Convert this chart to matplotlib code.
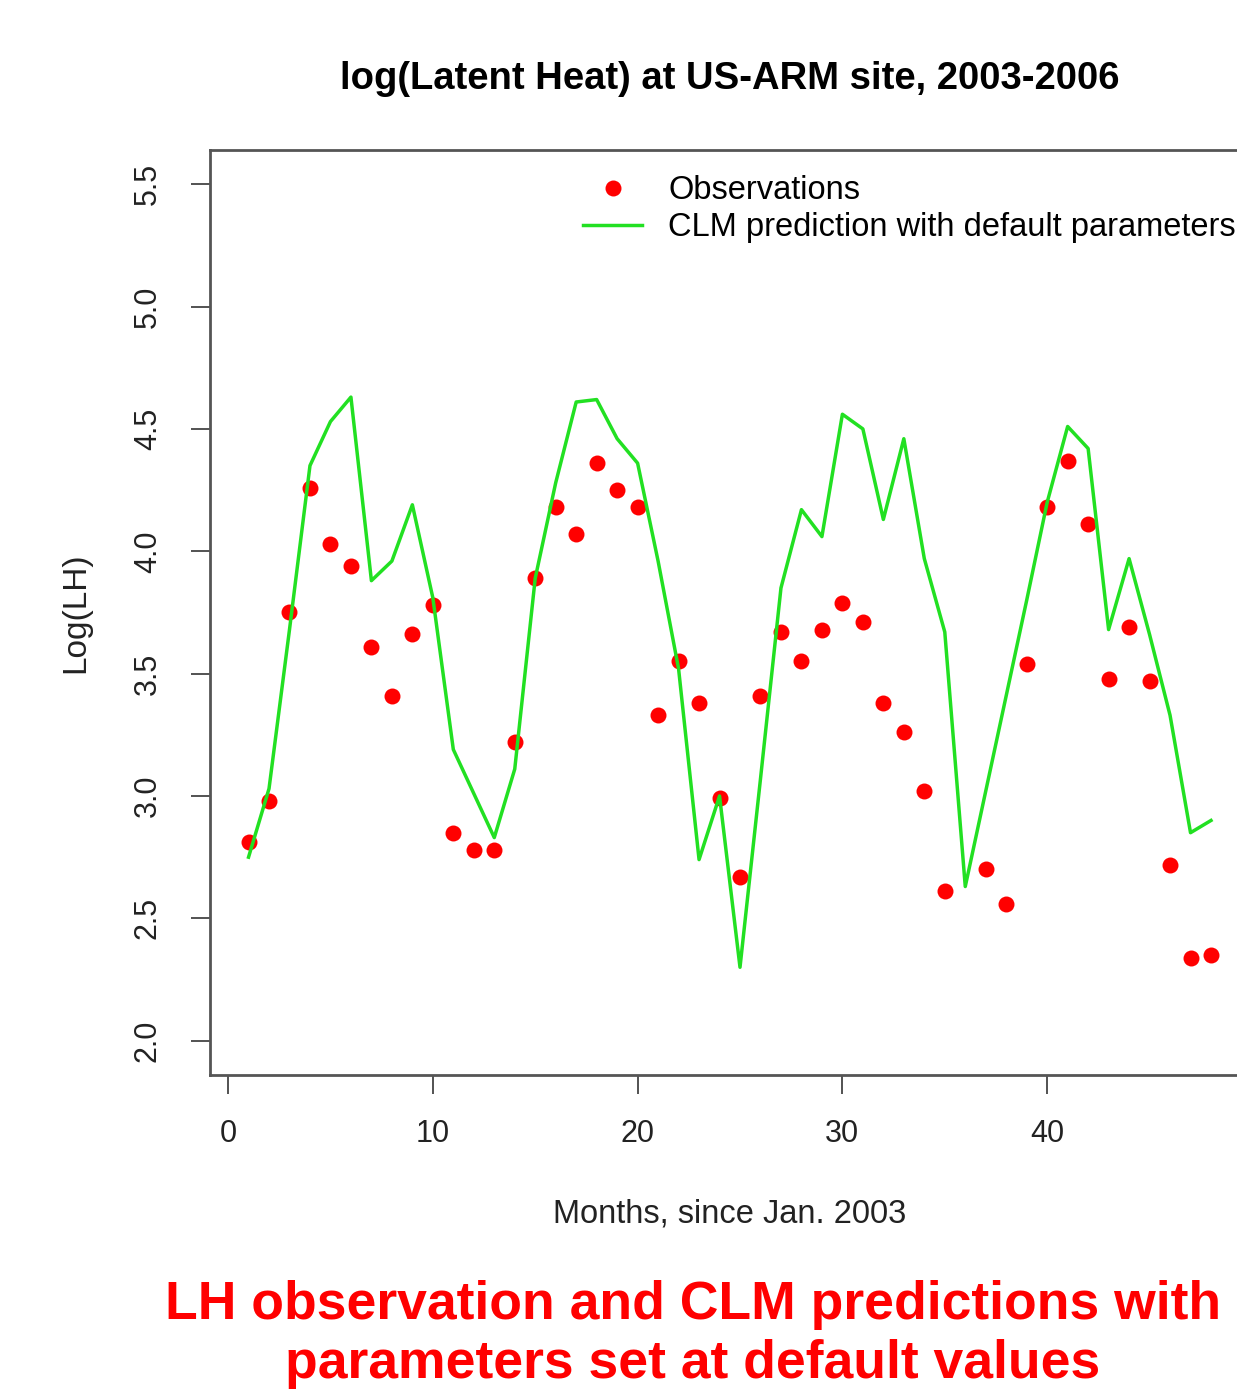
import numpy as np
import matplotlib
matplotlib.use('Agg')
import matplotlib.pyplot as plt

plt.rcParams['font.family'] = ['Liberation Sans', 'DejaVu Sans']

months = np.arange(1, 49)

# observed log(LH), month 36 missing
obs = [2.81, 2.98, 3.75, 4.26, 4.03, 3.94, 3.61, 3.41, 3.66, 3.78,
       2.85, 2.78, 2.78, 3.22, 3.89, 4.18, 4.07, 4.36, 4.25, 4.18,
       3.33, 3.55, 3.38, 2.99, 2.67, 3.41, 3.67, 3.55, 3.68, 3.79,
       3.71, 3.38, 3.26, 3.02, 2.61, np.nan, 2.70, 2.56, 3.54, 4.18,
       4.37, 4.11, 3.48, 3.69, 3.47, 2.72, 2.34, 2.35]

# CLM with default parameters
clm = [2.75, 3.03, 3.68, 4.35, 4.53, 4.63, 3.88, 3.96, 4.19, 3.81,
       3.19, 3.01, 2.83, 3.11, 3.89, 4.28, 4.61, 4.62, 4.46, 4.36,
       3.96, 3.52, 2.74, 3.00, 2.30, 3.07, 3.85, 4.17, 4.06, 4.56,
       4.50, 4.13, 4.46, 3.97, 3.67, 2.63, 3.02, 3.41, 3.80, 4.20,
       4.51, 4.42, 3.68, 3.97, 3.66, 3.33, 2.85, 2.90]

fig = plt.figure(figsize=(12.37, 13.91), dpi=100)
ax = fig.add_axes([0.1698, 0.2272, 0.8403, 0.665])

ax.plot(months, obs, 'o', color='#FF0000', markersize=11.5, markeredgewidth=0,
        label='Observations', zorder=2)
ax.plot(months, clm, '-', color='#22E022', linewidth=2.5,
        label='CLM prediction with default parameters', zorder=3)

ax.set_xlim(-0.88, 49.88)
ax.set_ylim(1.86, 5.64)
ax.set_xticks([0, 10, 20, 30, 40])
ax.set_yticks([2.0, 2.5, 3.0, 3.5, 4.0, 4.5, 5.0, 5.5])
ax.set_yticklabels(['2.0', '2.5', '3.0', '3.5', '4.0', '4.5', '5.0', '5.5'],
                   rotation=90, va='center')
ax.tick_params(axis='both', length=14, width=1.3, color='#444444', labelsize=22,
               labelcolor='#222222')
ax.tick_params(axis='x', pad=18)
ax.tick_params(axis='y', pad=20)

for s in ax.spines.values():
    s.set_color('#555555')
    s.set_linewidth(2.0)

ax.set_title('log(Latent Heat) at US-ARM site, 2003-2006', fontsize=27.5,
             fontweight='bold', pad=44)
ax.set_xlabel('Months, since Jan. 2003', fontsize=23.5, labelpad=35, color='#222222')
ax.set_ylabel('Log(LH)', fontsize=24, labelpad=30, color='#222222')

ax.legend(loc='upper left', bbox_to_anchor=(0.359, 0.973), frameon=False,
          fontsize=23.5, handlelength=1.8, handletextpad=0.8, borderpad=0,
          labelspacing=0.2, borderaxespad=0)

fig.text(0.56, 0.0405, 'LH observation and CLM predictions with\nparameters set at default values',
         ha='center', va='center', fontsize=38.5, fontweight='bold', color='#FF0000',
         linespacing=1.24)

fig.savefig('out.png', dpi=100)
